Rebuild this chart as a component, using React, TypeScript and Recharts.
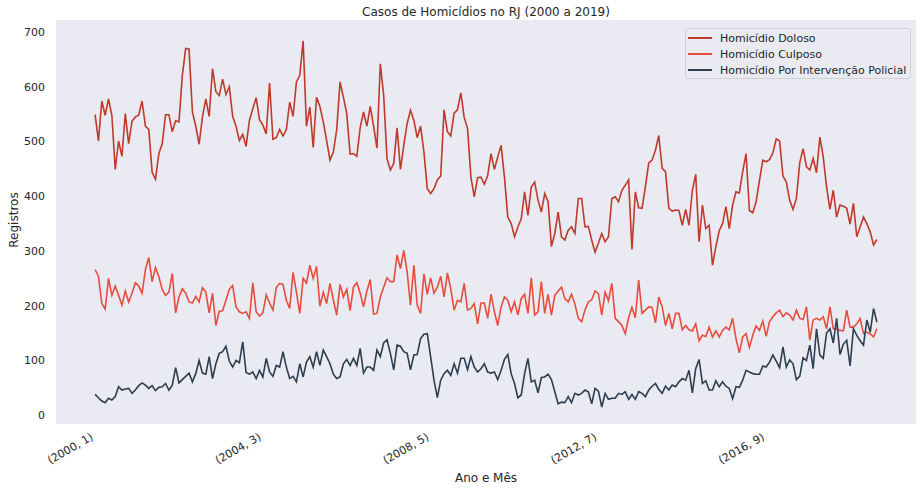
import React from 'react';
import { LineChart, Line, XAxis, YAxis, CartesianGrid, Legend } from 'recharts';

// monthly records, Jan/2000 onwards
const doloso = [
  549, 501, 574, 548, 578, 548, 449, 501, 473, 551, 496, 537, 545, 548, 574, 528, 522, 444, 431, 478, 496, 549,
  549, 518, 538, 536, 621, 670, 669, 554, 528, 495, 545, 578, 546, 633, 591, 584, 614, 586, 600, 546, 528, 502,
  513, 491, 539, 560, 580, 540, 530, 514, 607, 504, 507, 522, 510, 522, 572, 546, 609, 621, 684, 528, 563, 489,
  581, 564, 536, 502, 466, 481, 521, 609, 581, 551, 477, 478, 473, 525, 554, 528, 564, 528, 488, 642,
  585, 469, 448, 460, 525, 449, 493, 533, 557, 539, 507, 528, 481, 414, 405, 414, 430, 437, 558, 518, 510, 552, 558,
  589, 544, 524, 435, 399, 434, 435, 422, 438, 478, 449, 472, 493, 435, 362, 350, 326, 344, 359, 408, 365, 417,
  426, 393, 371, 405, 390, 308, 332, 371, 326, 320, 338, 344, 332, 396, 396, 344, 345, 320, 298, 314, 332,
  317, 326, 396, 399, 390, 411, 420, 430, 303, 408, 379, 378, 417, 461, 466, 484, 511, 451, 445, 378, 373, 375,
  374, 347, 376, 347, 411, 440, 317, 384, 341, 347, 274, 308, 337, 350, 381, 341, 384, 408, 406, 445, 478,
  374, 370, 390, 429, 466, 463, 467, 479, 505, 501, 437, 426, 393, 376, 396, 461, 487, 454, 448, 469, 443, 508,
  472, 417, 376, 411, 362, 384, 382, 378, 349, 387, 326, 344, 362, 350, 335, 311, 321,
];

const culposo = [
  266, 254, 204, 194, 250, 219, 236, 219, 201, 227, 207, 223, 242, 236, 223, 266, 288, 244, 270, 253, 230, 219,
  225, 259, 187, 216, 231, 223, 207, 205, 217, 207, 233, 225, 187, 223, 164, 190, 191, 210, 230, 237, 198, 189,
  186, 189, 177, 242, 189, 181, 187, 220, 205, 192, 233, 241, 239, 210, 195, 261, 225, 186, 250, 241, 274, 250,
  272, 199, 225, 204, 241, 211, 183, 239, 216, 230, 191, 234, 242, 223, 198, 227, 248, 185, 186,
  216, 234, 251, 244, 244, 293, 268, 301, 262, 201, 274, 201, 186, 258, 221, 251, 223, 234, 254, 216, 260, 231, 192, 210,
  207, 241, 192, 195, 204, 167, 205, 205, 177, 221, 189, 164, 198, 216, 210, 189, 207, 183, 213, 221, 186,
  251, 183, 189, 244, 186, 221, 183, 219, 227, 234, 213, 207, 221, 203, 177, 171, 192, 207, 211, 227, 222, 183,
  225, 209, 241, 177, 171, 164, 149, 178, 197, 178, 247, 186, 192, 198, 197, 169, 216, 198, 164, 186, 158, 186,
  186, 156, 164, 156, 154, 167, 136, 146, 144, 161, 143, 154, 143, 155, 161, 156, 177, 140, 114, 143, 149,
  124, 146, 163, 155, 172, 144, 171, 180, 187, 192, 180, 187, 183, 174, 192, 177, 175, 198, 137, 174, 177, 174,
  180, 158, 198, 158, 158, 155, 154, 192, 161, 161, 167, 177, 149, 152, 149, 143, 158,
];

const policial = [
  38, 32, 26, 23, 31, 28, 34, 52, 46, 48, 49, 40, 46, 54, 59, 55, 49, 54, 45, 51, 52, 58,
  46, 55, 87, 59, 65, 71, 77, 61, 76, 100, 77, 75, 107, 67, 94, 113, 116, 126, 99, 88, 100, 96,
  134, 78, 75, 79, 67, 82, 70, 104, 79, 71, 91, 88, 116, 88, 67, 71, 61, 94, 70, 97,
  107, 88, 116, 91, 119, 107, 94, 75, 67, 70, 94, 102, 91, 104, 91, 122, 77, 88, 88, 82, 119,
  107, 132, 138, 113, 83, 128, 126, 116, 113, 83, 110, 111, 140, 148, 149, 107, 64, 32, 64, 76, 82, 73, 94, 77,
  104, 104, 83, 107, 88, 79, 85, 94, 79, 77, 79, 65, 82, 102, 111, 76, 58, 32, 37, 76, 104,
  61, 64, 41, 69, 70, 75, 65, 43, 21, 24, 23, 34, 23, 40, 37, 40, 46, 43, 21, 49, 44, 15,
  40, 29, 31, 31, 40, 38, 43, 29, 38, 29, 43, 40, 34, 46, 53, 58, 47, 40, 53, 46, 55, 52,
  61, 67, 64, 82, 41, 85, 102, 58, 63, 46, 46, 63, 52, 61, 53, 49, 30, 52, 51, 64, 82,
  79, 76, 75, 75, 90, 88, 97, 110, 99, 87, 125, 88, 101, 94, 65, 71, 105, 100, 128, 85, 158,
  110, 104, 150, 158, 132, 177, 111, 130, 137, 90, 158, 146, 136, 128, 174, 152, 195, 170,
];

const xTicks = [0, 50, 100, 150, 200];
const xTickLabels = ['(2000, 1)', '(2004, 3)', '(2008, 5)', '(2012, 7)', '(2016, 9)'];
const yTicks = [0, 100, 200, 300, 400, 500, 600, 700];

const COLORS = {
  doloso: '#c0392b',
  culposo: '#e74c3c',
  policial: '#2c3e50',
};
const TEXT = '#262626';
const FONT = '"DejaVu Sans", sans-serif';

// (ano, mês) label for each row
const data = doloso.map((v, i) => ({
  idx: i,
  periodo: `(${2000 + Math.floor(i / 12)}, ${(i % 12) + 1})`,
  doloso: v,
  culposo: culposo[i],
  policial: policial[i],
}));

const XTick = ({ x, y, payload }: { x?: number; y?: number; payload?: { value: number } }) => {
  const pos = xTicks.indexOf(payload?.value ?? -1);
  const label = pos >= 0 ? xTickLabels[pos] : '';
  const tx = (x ?? 0) - 1;
  const ty = (y ?? 0) + 7;
  return (
    <text x={tx} y={ty} transform={`rotate(-30, ${tx}, ${ty})`} textAnchor="end" fontSize={11} fill={TEXT} fontFamily={FONT}>
      {label}
    </text>
  );
};

const legendItems = [
  { label: 'Homicídio Doloso', color: COLORS.doloso },
  { label: 'Homicídio Culposo', color: COLORS.culposo },
  { label: 'Homicídio Por Intervenção Policial', color: COLORS.policial },
];

const LegendBox = () => (
  <div
    style={{
      width: 226,
      height: 51,
      boxSizing: 'border-box',
      border: '1px solid #d0d0d8',
      borderRadius: 3,
      background: '#eaeaf2',
      paddingTop: 1,
      fontFamily: FONT,
    }}
  >
    {legendItems.map((it) => (
      <div key={it.label} style={{ display: 'flex', alignItems: 'center', height: 16 }}>
        <div style={{ width: 24, height: 2, background: it.color, marginLeft: 2, marginRight: 8 }} />
        <span style={{ fontSize: 11, color: TEXT, whiteSpace: 'nowrap' }}>{it.label}</span>
      </div>
    ))}
  </div>
);

const App: React.FC = () => {
  return (
    <div style={{ position: 'absolute', left: 0, top: 0, width: 924, height: 492, background: '#fff', fontFamily: FONT }}>
      <div style={{ position: 'absolute', top: 4, left: 56, width: 860, textAlign: 'center', fontSize: 12, lineHeight: '16px', color: TEXT }}>
        Casos de Homicídios no RJ (2000 a 2019)
      </div>
      <LineChart width={924} height={492} data={data} margin={{ top: 20, right: 8, left: 16, bottom: 8 }}>
        <CartesianGrid horizontal={false} vertical={false} fill="#eaeaf2" stroke="none" />
        <XAxis
          dataKey="idx"
          type="number"
          domain={[-11.65, 244.65]}
          ticks={xTicks}
          allowDataOverflow
          axisLine={false}
          tickLine={false}
          height={60}
          interval={0}
          tick={<XTick />}
        />
        <YAxis
          type="number"
          domain={[-16, 722]}
          ticks={yTicks}
          allowDataOverflow
          axisLine={false}
          tickLine={false}
          width={40}
          tickMargin={5}
          tick={{ fontSize: 11, fill: TEXT, fontFamily: FONT }}
        />
        {/* horizontal + middle keeps the legend from eating into the plot offsets */}
        <Legend
          layout="horizontal"
          verticalAlign="middle"
          align="center"
          content={() => <LegendBox />}
          wrapperStyle={{ position: 'absolute', top: 28, left: 685, width: 226, height: 51 }}
        />
        <Line type="linear" dataKey="doloso" name="Homicídio Doloso" stroke={COLORS.doloso} strokeWidth={1.6} dot={false} isAnimationActive={false} />
        <Line type="linear" dataKey="culposo" name="Homicídio Culposo" stroke={COLORS.culposo} strokeWidth={1.6} dot={false} isAnimationActive={false} />
        <Line type="linear" dataKey="policial" name="Homicídio Por Intervenção Policial" stroke={COLORS.policial} strokeWidth={1.6} dot={false} isAnimationActive={false} />
      </LineChart>
      <div style={{ position: 'absolute', top: 470, left: 56, width: 860, textAlign: 'center', fontSize: 12, lineHeight: '16px', color: TEXT }}>
        Ano e Mês
      </div>
      <div
        style={{
          position: 'absolute',
          left: -86,
          top: 212,
          width: 200,
          height: 16,
          lineHeight: '16px',
          textAlign: 'center',
          fontSize: 12,
          color: TEXT,
          transform: 'rotate(-90deg)',
        }}
      >
        Registros
      </div>
    </div>
  );
};

export default App;
